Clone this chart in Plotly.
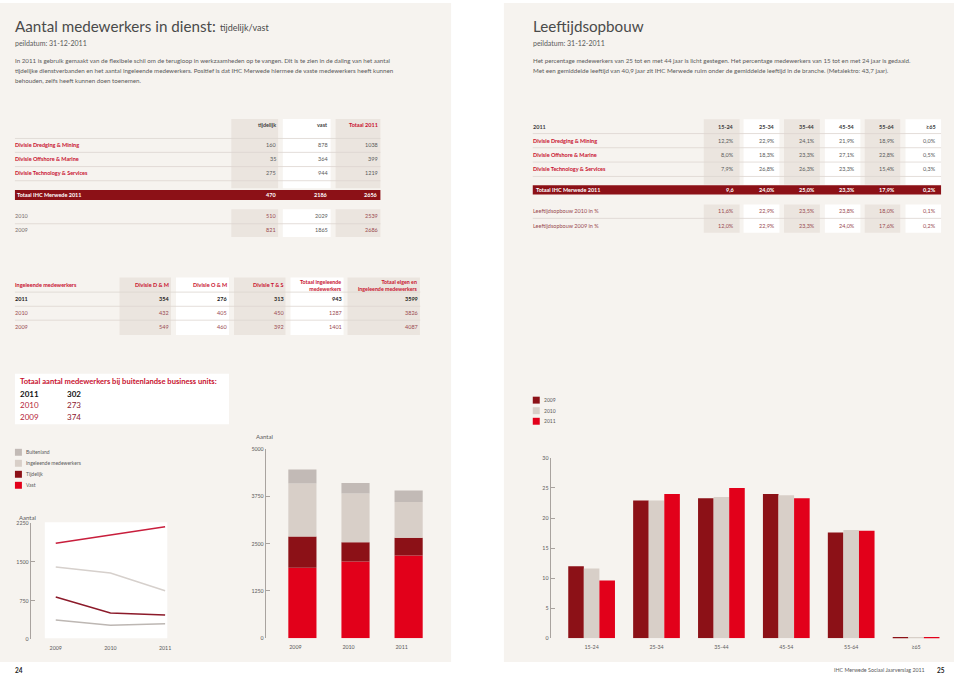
import plotly.graph_objects as go
import numpy as np

W, H = 960, 677
FONT = "Lato"

# ---------------- DATA ----------------
years = ["2009", "2010", "2011"]
vast = [1865, 2029, 2186]
tijdelijk = [821, 510, 470]
ingeleend = [1401, 1287, 943]
buitenland = [374, 273, 302]

divisies = ["Divisie Dredging & Mining", "Divisie Offshore & Marine", "Divisie Technology & Services"]
div_tijdelijk = [160, 35, 275]
div_vast = [878, 364, 944]

ing_years = ["2011", "2010", "2009"]
ing_dm = [354, 432, 549]
ing_om = [276, 405, 460]
ing_ts = [313, 450, 392]

age_groups = ["15-24", "25-34", "35-44", "45-54", "55-64", "≥65"]
age_dm = [12.2, 22.9, 24.1, 21.9, 18.9, 0.0]
age_om = [8.0, 18.3, 23.3, 27.1, 22.8, 0.5]
age_ts = [7.9, 26.8, 26.3, 23.3, 15.4, 0.3]
age_2011 = [9.6, 24.0, 25.0, 23.3, 17.9, 0.2]
age_2010 = [11.6, 22.9, 23.5, 23.8, 18.0, 0.1]
age_2009 = [12.0, 22.9, 23.3, 24.0, 17.6, 0.2]

legend_left = ["Buitenland", "Ingeleende medewerkers", "Tijdelijk", "Vast"]
legend_right = ["2009", "2010", "2011"]

# ---------------- STYLE ----------------
BEIGE = "#f6f3ef"
SHADE = "#ebe5df"
DARK = "#3d3d3d"
GREY = "#5a5a5a"
RED = "#c8102e"
MUTED = "#9a4a50"
DRED = "#8c1117"
BRED = "#e2001a"
LIGHT = "#d8cfc8"
BGREY = "#c2bab6"
AXC = "#a9a39f"

fig = go.Figure()


def X(x):
    return x / W


def Y(y):
    return 1 - y / H


def rect(x0, y0, x1, y1, color):
    fig.add_shape(type="rect", xref="paper", yref="paper", x0=X(x0), x1=X(x1),
                  y0=Y(y1), y1=Y(y0), fillcolor=color, line=dict(width=0), layer="below")


def hline(x0, x1, y, color="#ddd6d0", width=0.8):
    fig.add_shape(type="line", xref="paper", yref="paper", x0=X(x0), x1=X(x1),
                  y0=Y(y), y1=Y(y), line=dict(color=color, width=width), layer="below")


def txt(x, y, s, size=5.5, color=DARK, anchor="left", bold=False, align=None):
    if bold:
        s = "<b>" + s.replace("<br>", "</b><br><b>") + "</b>"
    fig.add_annotation(x=X(x), y=Y(y), xref="paper", yref="paper", text=s, showarrow=False,
                       xanchor=anchor, yanchor="middle", borderpad=0, borderwidth=0,
                       align=align or ("right" if anchor == "right" else "left"),
                       font=dict(family=FONT, size=size, color=color))


def num(v):
    return str(v)


def pct(v):
    return f"{v:.1f}".replace(".", ",") + "%"


# ---------------- PAGE BACKGROUNDS ----------------
rect(0, 0, 453, 665, BEIGE)
rect(506, 0, 958, 665, BEIGE)

# ---------------- LEFT HEADER ----------------
txt(15, 23, "Aantal medewerkers in dienst:", size=15.2, color="#4a4a4a")
txt(221, 25, "tijdelijk/vast", size=9, color="#4a4a4a")
txt(15, 40, "peildatum: 31-12-2011", size=7, color=GREY)
left_par = [
    "In 2011 is gebruik gemaakt van de flexibele schil om de terugloop in werkzaamheden op te vangen. Dit is te zien in de daling van het aantal",
    "tijdelijke dienstverbanden en het aantal ingeleende medewerkers. Positief is dat IHC Merwede hiermee de vaste medewerkers heeft kunnen",
    "behouden, zelfs heeft kunnen doen toenemen.",
]
for i, line in enumerate(left_par):
    txt(15, 58.3 + i * 9.8, line, size=6.2, color=GREY)

# ---------------- TABLE 1 ----------------
c1 = [(232.3, 279.3, SHADE), (284, 332, "#ffffff"), (337, 382, SHADE)]
for (a, b, col) in c1:
    rect(a, 117, b, 187, col)
    rect(a, 208, b, 236, col)
for yy in [136.7, 150.7, 165, 179.3, 222.7]:
    hline(15, 382, yy)
r1 = [277, 329, 380]
txt(r1[0], 122.7, "tijdelijk", bold=True, anchor="right")
txt(r1[1], 122.7, "vast", bold=True, anchor="right")
txt(r1[2], 122.7, "Totaal 2011", bold=True, anchor="right", color=RED)
for i, name in enumerate(divisies):
    yy = 143.3 + i * 14.2
    txt(15, yy, name, bold=True, color=RED)
    vals = [div_tijdelijk[i], div_vast[i], div_tijdelijk[i] + div_vast[i]]
    for x, v in zip(r1, vals):
        txt(x, yy, num(v), color=GREY, anchor="right")
rect(15, 188.7, 382, 198.7, DRED)
txt(17, 193.7, "Totaal IHC Merwede 2011", bold=True, color="#ffffff")
for x, v in zip(r1, [tijdelijk[2], vast[2], tijdelijk[2] + vast[2]]):
    txt(x, 193.7, num(v), bold=True, color="#ffffff", anchor="right")
for j, (yi, yy) in enumerate([(1, 215.3), (0, 229.3)]):
    txt(15, yy, years[yi], color="#7a6e6e")
    txt(r1[0], yy, num(tijdelijk[yi]), color=MUTED, anchor="right")
    txt(r1[1], yy, num(vast[yi]), color=GREY, anchor="right")
    txt(r1[2], yy, num(tijdelijk[yi] + vast[yi]), color=MUTED, anchor="right")

# ---------------- TABLE 2 ----------------
c2 = [(120, 171.7, SHADE), (176.7, 230, "#ffffff"), (235, 286.7, SHADE),
      (291.7, 345, "#ffffff"), (349, 421.7, SHADE)]
for (a, b, col) in c2:
    rect(a, 277, b, 335, col)
for yy in [291.7, 306, 320]:
    hline(15, 422, yy)
r2 = [170, 228, 285, 343, 420]
txt(15, 285, "Ingeleende medewerkers", bold=True, color=RED)
heads2 = ["Divisie D & M", "Divisie O & M", "Divisie T & S"]
for x, h in zip(r2[:3], heads2):
    txt(x, 285, h, bold=True, color=RED, anchor="right")
txt(r2[3], 285, "Totaal ingeleende<br>medewerkers", bold=True, color=RED, anchor="right", size=5.3)
txt(r2[4], 285, "Totaal eigen en<br>ingeleende medewerkers", bold=True, color=RED, anchor="right", size=5.3)
for i, yr in enumerate(ing_years):
    yy = 298.7 + i * 14.3
    yi = years.index(yr)
    first = i == 0
    col = "#222222" if first else MUTED
    txt(15, yy, yr, bold=first, color=col)
    tot_ing = ing_dm[i] + ing_om[i] + ing_ts[i]
    vals = [ing_dm[i], ing_om[i], ing_ts[i], tot_ing, tot_ing + vast[yi] + tijdelijk[yi]]
    for x, v in zip(r2, vals):
        txt(x, yy, num(v), bold=first, color=col, anchor="right")

# ---------------- BUITENLAND BOX ----------------
rect(15, 374, 230, 425, "#ffffff")
txt(20, 381.7, "Totaal aantal medewerkers bij buitenlandse business units:", bold=True, color=RED, size=7.6)
for i, yy in enumerate([394, 405.8, 418]):
    yi = 2 - i
    first = i == 0
    txt(20, yy, years[yi], bold=first, color="#111111" if first else "#b5253a", size=8)
    txt(67, yy, num(buitenland[yi]), bold=first, color="#111111" if first else "#8c2030", size=8)

# ---------------- LEFT LEGEND ----------------
leg_cols = [BGREY, LIGHT, DRED, BRED]
for i, (name, col) in enumerate(zip(legend_left, leg_cols)):
    yy = 453.3 + i * 11.1
    rect(15, yy - 3.5, 22, yy + 3.5, col)
    txt(26, yy, name, size=5, color=GREY)

# ---------------- LINE CHART ----------------
rect(45, 524, 168, 641, "#ffffff")
txt(28, 519, "Aantal", size=6, color=GREY, anchor="center")
line_series = [(vast, "#c81e3c"), (ingeleend, "#d6d0cc"), (tijdelijk, "#8c1a2a"), (buitenland, "#bdb7b3")]
for vals, col in line_series:
    fig.add_trace(go.Scatter(x=years, y=vals, mode="lines", line=dict(color=col, width=1.5),
                             xaxis="x", yaxis="y", showlegend=False, hoverinfo="skip"))

# ---------------- STACKED BAR ----------------
txt(266, 437, "Aantal", size=6, color=GREY, anchor="center")
stack = [(vast, BRED), (tijdelijk, DRED), (ingeleend, LIGHT), (buitenland, BGREY)]
base = np.zeros(len(years))
for vals, col in stack:
    fig.add_trace(go.Bar(x=years, y=vals, base=base.copy(), marker=dict(color=col, line=dict(width=0)),
                         width=0.53, offset=-0.265, xaxis="x2", yaxis="y2",
                         showlegend=False, hoverinfo="skip"))
    base = base + np.array(vals)

# ---------------- RIGHT HEADER ----------------
txt(535, 23, "Leeftijdsopbouw", size=15.2, color="#4a4a4a")
txt(535, 40, "peildatum: 31-12-2011", size=7, color=GREY)
right_par = [
    "Het percentage medewerkers van 25 tot en met 44 jaar is licht gestegen. Het percentage medewerkers van 15 tot en met 24 jaar is gedaald.",
    "Met een gemiddelde leeftijd van 40,9 jaar zit IHC Merwede ruim onder de gemiddelde leeftijd in de branche. (Metalektro: 43,7 jaar).",
]
for i, line in enumerate(right_par):
    txt(535, 58.3 + i * 10.2, line, size=6.2, color=GREY)

# ---------------- RIGHT TABLE ----------------
c3 = [(706.7, 742.7, SHADE), (746.7, 782.7, "#ffffff"), (787.3, 823.3, SHADE),
      (828.3, 864, "#ffffff"), (868.3, 904, SHADE), (909.3, 945, "#ffffff")]
for (a, b, col) in c3:
    rect(a, 117.3, b, 183.3, col)
    rect(a, 203.3, b, 231.7, col)
for yy in [131.7, 146, 160.5, 175, 217.3]:
    hline(535, 945, yy)
r3 = [737.5, 778, 818.5, 859, 898.5, 940]
txt(535, 124.7, "2011", bold=True, color=DARK)
for x, g in zip(r3, age_groups):
    txt(x, 124.7, g, bold=True, color=DARK, anchor="right")
for i, (name, vals) in enumerate(zip(divisies, [age_dm, age_om, age_ts])):
    yy = 139 + i * 14.35
    txt(535, yy, name, bold=True, color=RED)
    for x, v in zip(r3, vals):
        txt(x, yy, pct(v), color=GREY, anchor="right")
rect(535, 184, 945, 193.3, DRED)
txt(538, 188.7, "Totaal IHC Merwede 2011", bold=True, color="#ffffff")
tot_fmt = [pct(v) for v in age_2011]
tot_fmt[0] = tot_fmt[0].rstrip("%")
for x, s in zip(r3, tot_fmt):
    txt(x, 188.7, s, bold=True, color="#ffffff", anchor="right")
for yy, lbl, vals in [(210, "Leeftijdsopbouw 2010 in %", age_2010), (224.7, "Leeftijdsopbouw 2009 in %", age_2009)]:
    txt(535, yy, lbl, color=MUTED)
    for x, v in zip(r3, vals):
        txt(x, yy, pct(v), color=MUTED, anchor="right")

# ---------------- RIGHT LEGEND ----------------
for i, (name, col) in enumerate(zip(legend_right, [DRED, LIGHT, BRED])):
    yy = 400.7 + i * 10.65
    rect(535, yy - 3.5, 542, yy + 3.5, col)
    txt(546, yy, name, size=5, color=GREY)

# ---------------- GROUPED BAR ----------------
for vals, col, nm in [(age_2009, DRED, "2009"), (age_2010, LIGHT, "2010"), (age_2011, BRED, "2011")]:
    fig.add_trace(go.Bar(x=age_groups, y=vals, name=nm, marker=dict(color=col, line=dict(width=0)),
                         xaxis="x3", yaxis="y3", showlegend=False, hoverinfo="skip"))

# ---------------- FOOTER ----------------
txt(15, 673, "24", bold=True, size=6.5, color="#222222")
txt(929, 673, "IHC Merwede Sociaal Jaarverslag 2011", size=5.3, color=GREY, anchor="right")
txt(941, 673, "25", bold=True, size=6.5, color="#222222")

# ---------------- AXES ----------------
tickfont = dict(family=FONT, size=5.3, color=GREY)
yax_common = dict(showline=True, linecolor=AXC, linewidth=1.3, ticks="inside", ticklen=4,
                  tickcolor=AXC, tickwidth=1, showgrid=False, zeroline=False, tickfont=tickfont,
                  anchor="free", fixedrange=True)
xax_common = dict(showline=False, ticks="", showgrid=False, zeroline=False, tickfont=tickfont,
                  fixedrange=True, ticklabelstandoff=4)

fig.update_layout(
    width=W, height=H, margin=dict(l=0, r=0, t=0, b=0),
    paper_bgcolor="#ffffff", plot_bgcolor="rgba(0,0,0,0)",
    barmode="group", bargap=0.28, bargroupgap=0,
    showlegend=False,
    xaxis=dict(domain=[X(45), X(168)], range=[-0.2, 2.04], anchor="y", **xax_common),
    yaxis=dict(domain=[Y(642), Y(525)], range=[0, 2250], tickvals=[0, 750, 1500, 2250],
               position=X(30), **yax_common),
    xaxis2=dict(domain=[X(277), X(437)], range=[-0.5, 2.5], anchor="y2", ticklabelshift=-7, **xax_common),
    yaxis2=dict(domain=[Y(641), Y(450)], range=[0, 5000], tickvals=[0, 1250, 2500, 3750, 5000],
                position=X(266), **yax_common),
    xaxis3=dict(domain=[X(561.5), X(952.5)], range=[-0.5, 5.5], anchor="y3", **xax_common),
    yaxis3=dict(domain=[Y(641), Y(459)], range=[0, 30], tickvals=[0, 5, 10, 15, 20, 25, 30],
                position=X(552), **yax_common),
)

fig.write_html("out.html", config={"displayModeBar": False},
               post_script="document.body.style.margin='0';document.body.style.overflow='hidden';")
